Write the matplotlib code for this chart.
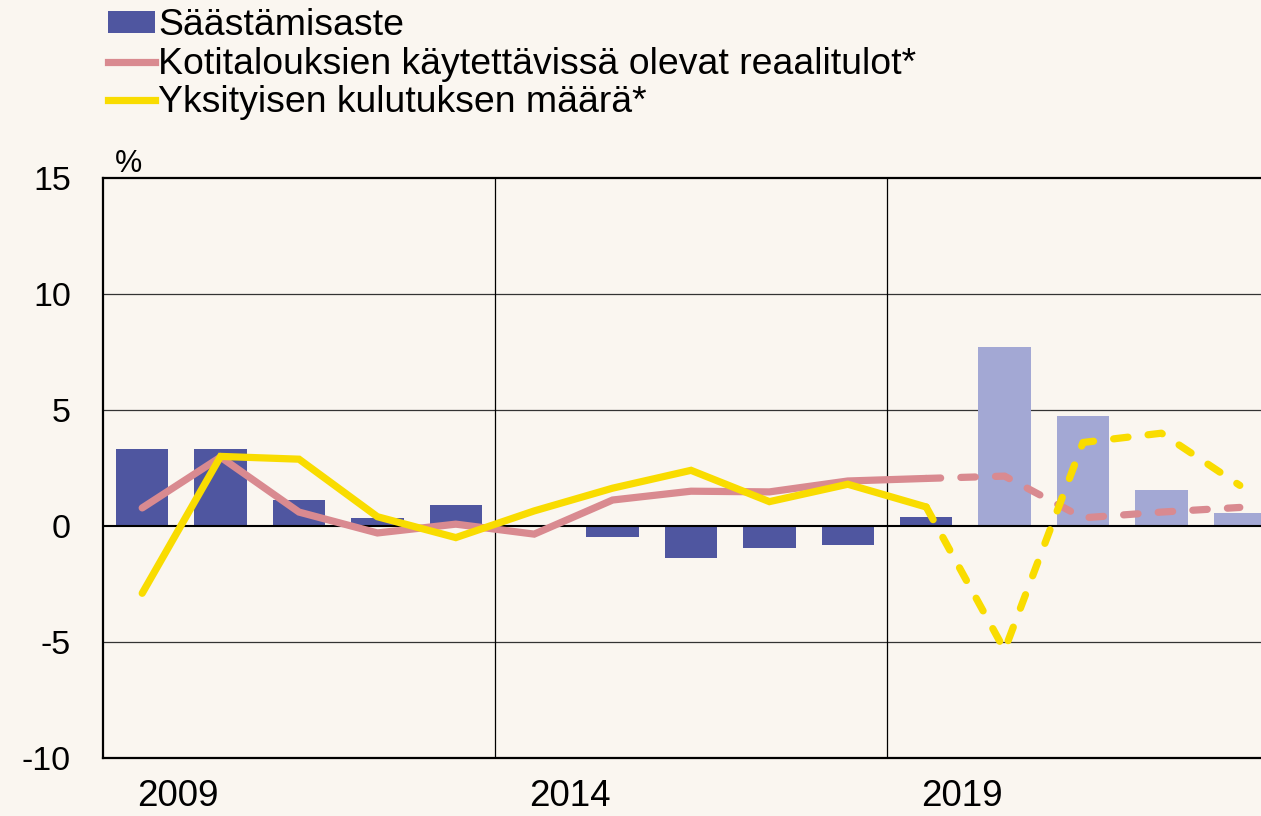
import matplotlib
matplotlib.use("Agg")
import matplotlib.pyplot as plt
from matplotlib.lines import Line2D
from matplotlib.patches import Patch
import numpy as np

plt.rcParams['font.family'] = ['Liberation Sans', 'DejaVu Sans']

years = list(range(2009, 2024))
saving_rate = [3.3, 3.3, 1.1, 0.35, 0.9, 0.0, -0.47, -1.37, -0.94, -0.8, 0.38, 7.72, 4.75, 1.55, 0.55]
real_income = [0.78, 2.97, 0.6, -0.3, 0.08, -0.35, 1.12, 1.5, 1.47, 1.94, 2.05, 2.15, 0.35, 0.6, 0.8]
consumption = [-2.9, 3.0, 2.88, 0.4, -0.5, 0.65, 1.63, 2.4, 1.05, 1.8, 0.82, -5.35, 3.6, 4.0, 1.75]
forecast_start = 2019  # last actual year; later years are forecasts
year_labels = ["2009", "2014", "2019"]

labels = ["Säästämisaste",
          "Kotitalouksien käytettävissä olevat reaalitulot*",
          "Yksityisen kulutuksen määrä*"]

BG = "#FAF6F0"
DARK = "#4F56A0"
LIGHT = "#A3A8D4"
PINK = "#D98A90"
YELLOW = "#F9DC00"

W, H = 1261, 816
fig = plt.figure(figsize=(W / 100, H / 100), dpi=100, facecolor=BG)
ax = fig.add_axes([103 / W, 58 / H, (W - 103) / W, (758 - 178) / H], facecolor=BG)

x = np.arange(len(years))
fi = years.index(forecast_start)
colors = [DARK if y <= forecast_start else LIGHT for y in years]
ax.bar(x, saving_rate, width=0.67, color=colors, zorder=2)

lw = 5.2
dash = (0, (2.0, 2.8))
ax.plot(x[:fi + 1], real_income[:fi + 1], color=PINK, lw=lw, solid_capstyle='round',
        solid_joinstyle='miter', zorder=3)
ax.plot(x[fi:], real_income[fi:], color=PINK, lw=lw, ls=dash,
        dash_capstyle='round', zorder=3)
ax.plot(x[:fi + 1], consumption[:fi + 1], color=YELLOW, lw=lw, solid_capstyle='round',
        solid_joinstyle='miter', zorder=4)
ax.plot(x[fi:], consumption[fi:], color=YELLOW, lw=lw, ls=dash,
        dash_capstyle='round', zorder=4)

ax.set_xlim(-0.5, -0.5 + (W - 103) / 78.4)
ax.set_ylim(-10, 15)
ax.set_yticks([-10, -5, 0, 5, 10, 15])
ax.set_yticklabels(["-10", "-5", "0", "5", "10", "15"], fontsize=24.5)
ax.tick_params(axis='y', length=0, pad=23)

ax.set_xticks([0.457, 5.457, 10.457])
ax.set_xticklabels(year_labels, fontsize=26.5)
ax.tick_params(axis='x', length=0, pad=15)

for yv in [-5, 5, 10]:
    ax.axhline(yv, color="#333333", lw=0.9, zorder=1)
ax.axhline(0, color="black", lw=1.5, zorder=2.5)
for xv in [4.5, 9.5]:
    ax.axvline(xv, color="black", lw=0.9, zorder=1)

for s in ['left', 'top', 'bottom']:
    ax.spines[s].set_color('black')
    ax.spines[s].set_linewidth(1.6)
ax.spines['right'].set_visible(False)

ax.text(-0.5 + 12 / 78.4, 15.27, "%", fontsize=22, ha='left', va='baseline')

handles = [Patch(facecolor=DARK, edgecolor='none'),
           Line2D([], [], color=PINK, lw=lw),
           Line2D([], [], color=YELLOW, lw=lw)]
fig.legend(handles, labels, loc='upper left', bbox_to_anchor=(108 / W, 0.99),
           frameon=False, fontsize=26.9, handlelength=1.25, handleheight=0.5,
           handletextpad=0.1, labelspacing=0.09, borderpad=0.0, borderaxespad=0.0)

fig.savefig("out.png", dpi=100, facecolor=BG)
